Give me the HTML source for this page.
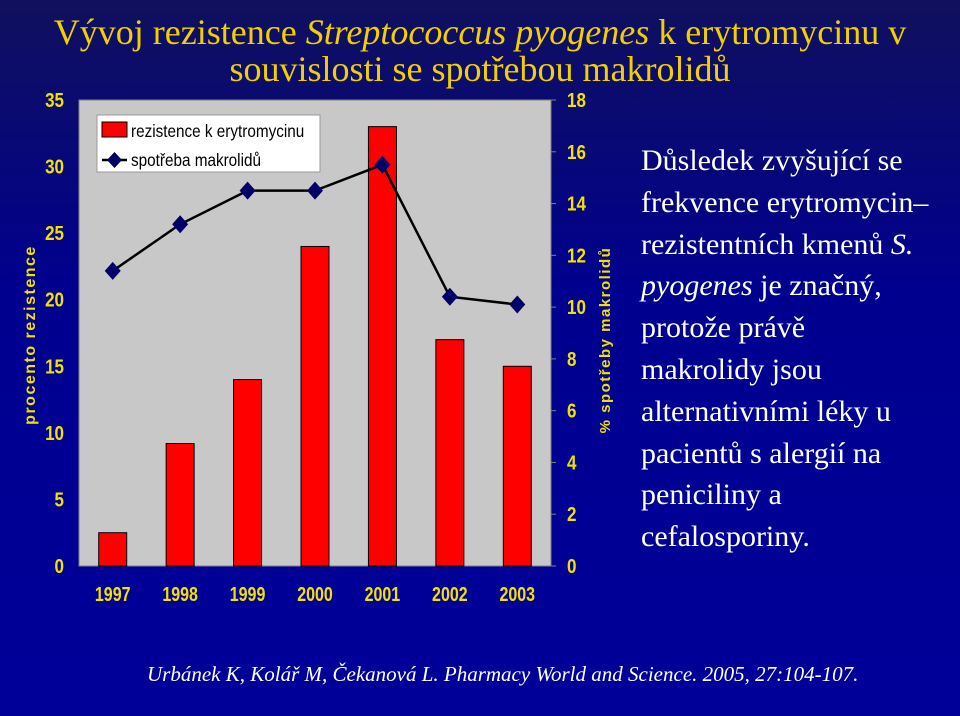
<!DOCTYPE html>
<html><head><meta charset="utf-8"><style>
html,body{margin:0;padding:0}
body{width:960px;height:716px;overflow:hidden;background:linear-gradient(#10105e 0%,#00008e 40%,#000099 100%);position:relative;font-family:"Liberation Serif",serif}
.title{position:absolute;left:0;width:960px;text-align:center;color:#f2d000;font-size:36px;line-height:37px;top:14px;white-space:nowrap}
.side{position:absolute;left:641px;top:140px;color:#fff;font-size:30px;line-height:41.8px;white-space:nowrap}
.cite{position:absolute;left:147px;top:662px;color:#fff;font-size:21px;font-style:italic;white-space:nowrap}
</style></head><body>
<div class="title">Vývoj rezistence <i>Streptococcus pyogenes</i> k erytromycinu v<br>souvislosti se spotřebou makrolidů</div>
<svg id="chart" width="960" height="716" style="position:absolute;left:0;top:0"></svg>
<div class="side">Důsledek zvyšující se<br>frekvence erytromycin–<br>rezistentních kmenů <i>S.</i><br><i>pyogenes</i> je značný,<br>protože právě<br>makrolidy jsou<br>alternativními léky u<br>pacientů s alergií na<br>peniciliny a<br>cefalosporiny.</div>
<div class="cite">Urbánek K, Kolář M, Čekanová L. Pharmacy World and Science. 2005, 27:104-107.</div>
<script>
const years=["1997","1998","1999","2000","2001","2002","2003"];
const resistance=[2.5,9.2,14,24,33,17,15];
const consumption=[11.4,13.2,14.5,14.5,15.5,10.4,10.1];
const leftTicks=[0,5,10,15,20,25,30,35];
const rightTicks=[0,2,4,6,8,10,12,14,16,18];
const NS="http://www.w3.org/2000/svg";
const svg=document.getElementById("chart");
const X0=79,X1=551,Y0=566,Y1=100;
const yL=v=>Y0-(v/35)*(Y0-Y1);
const yR=v=>Y0-(v/18)*(Y0-Y1);
const bw=(X1-X0)/years.length;
const xc=i=>X0+bw*(i+0.5);
function mk(tag,attrs,parent){const e=document.createElementNS(NS,tag);for(const k in attrs)e.setAttribute(k,attrs[k]);(parent||svg).appendChild(e);return e;}
const plot=mk("rect",{x:X0,y:Y1,width:X1-X0,height:Y0-Y1,fill:"#c8c8c8",stroke:"#808080"});


const tstyle="font-family:'Liberation Sans',sans-serif;font-weight:bold;font-size:20px;fill:#f2e000";
leftTicks.forEach(v=>{
 const t=mk("text",{x:64,y:yL(v)+7,"text-anchor":"end",style:tstyle,transform:`translate(64,0) scale(0.85,1) translate(-64,0)`});t.textContent=v;
 
 
});
rightTicks.forEach(v=>{
 mk("line",{x1:X1,x2:X1+5,y1:yR(v),y2:yR(v),stroke:"#808080"});
 const t=mk("text",{x:567,y:yR(v)+7,style:tstyle,transform:`translate(567,0) scale(0.85,1) translate(-567,0)`});t.textContent=v;
 
 
});
years.forEach((y,i)=>{
 const b=mk("rect",{x:xc(i)-14,y:yL(resistance[i]),width:28,height:Y0-yL(resistance[i]),fill:"#ff0000",stroke:"#000","stroke-width":1});
 
 
 const t=mk("text",{x:xc(i),y:601,"text-anchor":"middle",style:tstyle,transform:`translate(${xc(i)},0) scale(0.8,1) translate(${-xc(i)},0)`});t.textContent=y;
 
 
});
const pts=consumption.map((v,i)=>xc(i)+","+yR(v)).join(" ");
const line=mk("polyline",{points:pts,fill:"none",stroke:"#000","stroke-width":2.5});


consumption.forEach((v,i)=>{
 const x=xc(i),y=yR(v);
 const d=mk("polygon",{points:`${x},${y-9} ${x+8},${y} ${x},${y+9} ${x-8},${y}`,fill:"#000066"});
 
 
});
const lt=mk("text",{x:35,y:335,"text-anchor":"middle",transform:"rotate(-90 35 335)",style:"font-family:'Liberation Sans',sans-serif;font-weight:bold;font-size:16px;letter-spacing:1.5px;fill:#f2e000"});lt.textContent="procento rezistence";


const rt=mk("text",{x:610,y:340,"text-anchor":"middle",transform:"rotate(-90 610 340)",style:"font-family:'Liberation Sans',sans-serif;font-weight:bold;font-size:15px;letter-spacing:1.5px;fill:#f2e000"});rt.textContent="% spotřeby makrolidů";


const lg=mk("g",{});


mk("rect",{x:97,y:115,width:223,height:57,fill:"#fff",stroke:"#999"},lg);
mk("rect",{x:102,y:122,width:25,height:15,fill:"#ff0000",stroke:"#000"},lg);
const l1=mk("text",{x:131,y:137,style:"font-family:'Liberation Sans',sans-serif;font-size:18px;fill:#000",transform:"translate(131,0) scale(0.85,1) translate(-131,0)"},lg);l1.textContent="rezistence k erytromycinu";
mk("line",{x1:102,x2:127,y1:160,y2:160,stroke:"#000","stroke-width":2.5},lg);
mk("polygon",{points:"114.5,152 122,160 114.5,168 107,160",fill:"#000066"},lg);
const l2=mk("text",{x:131,y:166,style:"font-family:'Liberation Sans',sans-serif;font-size:18px;fill:#000",transform:"translate(131,0) scale(0.85,1) translate(-131,0)"},lg);l2.textContent="spotřeba makrolidů";
</script>
</body></html>
